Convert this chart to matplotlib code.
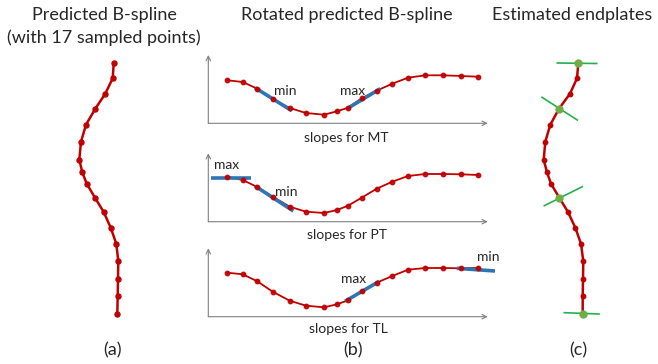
import matplotlib
matplotlib.use("Agg")
import matplotlib.pyplot as plt

plt.rcParams['font.family'] = ['Lato', 'DejaVu Sans']

# ---- data (pixel-space coordinates) ----
# Panel (a): predicted B-spline, 17 sampled points
a_x = [113.7, 112.7, 105.3, 95.3, 86.0, 81.0, 79.3, 82.3, 86.7, 95.0, 103.7, 110.7, 116.3, 118.3, 118.0, 117.7, 117.3]
a_y = [63.3, 78.3, 93.7, 108.7, 124.7, 141.7, 159.7, 172.3, 183.7, 197.7, 212.0, 227.7, 243.7, 261.3, 278.7, 296.0, 313.7]

# Panel (c): estimated endplates
c_x = [578.3, 577.0, 570.0, 559.0, 550.3, 545.3, 543.7, 547.0, 551.0, 559.3, 568.0, 575.3, 581.0, 583.3, 583.0, 582.7, 582.7]
c_y = a_y
c_end_idx = [0, 3, 9, 16]
c_plates = [((557.3, 63.0), (596.7, 63.5)),
            ((542.0, 97.3), (577.3, 120.0)),
            ((544.3, 205.7), (582.3, 186.7)),
            ((564.3, 312.7), (599.0, 314.0))]

# Panel (b): rotated curves
b_x = [227.3, 242.7, 257.3, 272.7, 289.7, 306.0, 324.0, 337.0, 348.0, 361.7, 376.7, 392.3, 408.0, 425.3, 443.3, 461.0, 478.0]
mt_y = [80.3, 82.0, 88.7, 99.3, 108.0, 113.0, 114.7, 111.3, 107.7, 98.3, 90.7, 83.7, 77.7, 75.3, 75.3, 76.0, 76.7]
pt_y = [176.7, 180.0, 187.0, 196.7, 206.7, 211.7, 213.0, 210.0, 205.7, 197.7, 188.7, 181.7, 176.0, 174.0, 174.0, 174.3, 175.0]
tl_y = [272.7, 274.3, 281.3, 291.7, 300.7, 305.7, 307.3, 304.3, 300.3, 291.3, 282.7, 276.0, 269.7, 268.0, 268.0, 268.3, 268.0]

sub_axes = [  # (x0, y_top, y_bottom, x_end)
    (208.3, 55.0, 123.3, 487.7),
    (208.3, 153.3, 221.7, 487.7),
    (208.3, 248.3, 316.7, 487.7),
]
mt_slopes = [((255.0, 87.7), (291.7, 110.7)), ((347.0, 108.7), (380.3, 88.7))]
pt_slopes = [((211.0, 178.0), (250.7, 178.0)), ((255.0, 186.0), (293.3, 211.0))]
tl_slopes = [((345.0, 301.3), (379.3, 281.3)), ((456.7, 268.3), (495.0, 271.0))]
mt_labels = [("min", 285.7, 91.0), ("max", 352.7, 91.0)]
pt_labels = [("max", 226.7, 164.7), ("min", 286.0, 192.0)]
tl_labels = [("max", 354.0, 278.7), ("min", 488.3, 256.7)]
sub_titles = [("slopes for MT", 346.7, 138.3), ("slopes for PT", 346.7, 235.0), ("slopes for TL", 348.3, 329.0)]

RED = "#C00000"
BLUE = "#2E75B6"
GREEN = "#22B14C"
GMARK = "#70AD47"
GRAY = "#7F7F7F"
TXT = "#262626"

fig = plt.figure(figsize=(6.58, 3.64), dpi=100)
ax = fig.add_axes([0, 0, 1, 1])
ax.set_xlim(0, 658)
ax.set_ylim(364, 0)
ax.axis("off")

FS = 13
# titles
ax.text(104, 15, "Predicted B-spline", ha="center", va="center", fontsize=FS, color=TXT)
ax.text(104, 38, "(with 17 sampled points)", ha="center", va="center", fontsize=FS, color=TXT)
ax.text(347, 15, "Rotated predicted B-spline", ha="center", va="center", fontsize=FS, color=TXT)
ax.text(572, 15, "Estimated endplates", ha="center", va="center", fontsize=FS, color=TXT)
ax.text(112, 350, "(a)", ha="center", va="center", fontsize=FS, color=TXT)
ax.text(353, 350, "(b)", ha="center", va="center", fontsize=FS, color=TXT)
ax.text(578, 350, "(c)", ha="center", va="center", fontsize=FS, color=TXT)

# panel (a)
ax.plot(a_x, a_y, color=RED, lw=1.8, zorder=2)
ax.plot(a_x, a_y, 'o', color=RED, ms=3.6, zorder=3)

# panel (c)
ax.plot(c_x, c_y, color=RED, lw=1.8, zorder=2)
ax.plot(c_x, c_y, 'o', color=RED, ms=3.2, zorder=3)
for (p0, p1) in c_plates:
    ax.plot([p0[0], p1[0]], [p0[1], p1[1]], color=GREEN, lw=1.2, zorder=4)
ax.plot([c_x[i] for i in c_end_idx], [c_y[i] for i in c_end_idx], 'o',
        color=GMARK, ms=5, zorder=5)

# panel (b)
for (x0, yt, yb, xe), ys, slopes, labels, (st, sx, sy) in zip(
        sub_axes, [mt_y, pt_y, tl_y], [mt_slopes, pt_slopes, tl_slopes],
        [mt_labels, pt_labels, tl_labels], sub_titles):
    ax.annotate("", xy=(x0, yt), xytext=(x0, yb),
                arrowprops=dict(arrowstyle="->", color=GRAY, lw=0.8,
                                shrinkA=0, shrinkB=0, mutation_scale=8))
    ax.annotate("", xy=(xe, yb), xytext=(x0, yb),
                arrowprops=dict(arrowstyle="->", color=GRAY, lw=0.8,
                                shrinkA=0, shrinkB=0, mutation_scale=8))
    ax.plot(b_x, ys, color=RED, lw=1.3, zorder=2)
    for (p0, p1) in slopes:
        ax.plot([p0[0], p1[0]], [p0[1], p1[1]], color=BLUE, lw=2.6,
                solid_capstyle="butt", zorder=3)
    ax.plot(b_x, ys, 'o', color=RED, ms=3.2, zorder=4, alpha=0.9)
    for (t, tx, ty) in labels:
        ax.text(tx, ty, t, ha="center", va="center", fontsize=10, color=TXT, zorder=6)
    ax.text(sx, sy, st, ha="center", va="center", fontsize=10, color=TXT)

fig.savefig("out.png", dpi=100)
